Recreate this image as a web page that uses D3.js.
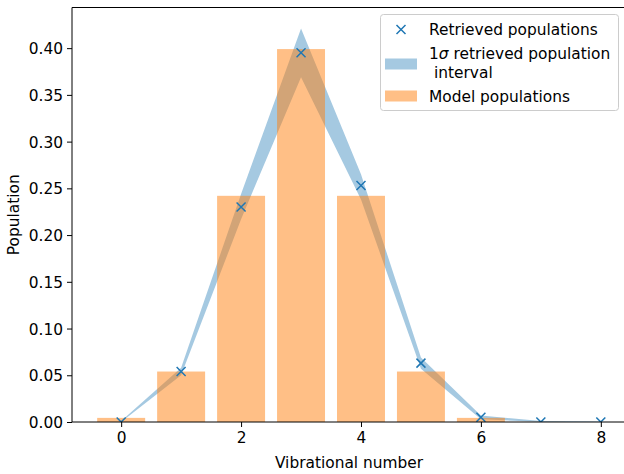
<!DOCTYPE html>
<html><head><meta charset="utf-8">
<script src="https://cdn.jsdelivr.net/npm/d3@7"></script>
<style>body{margin:0;background:#fff}svg{display:block}text{font-family:"DejaVu Sans",sans-serif;fill:#000}</style>
</head><body>
<script>
const levels = [0,1,2,3,4,5,6,7,8];
const retrieved = [0.000,0.054,0.230,0.395,0.253,0.063,0.005,0.000,0.000];
const lower =     [0.000,0.050,0.217,0.369,0.238,0.057,0.003,0.000,0.000];
const upper =     [0.001,0.058,0.244,0.421,0.265,0.069,0.007,0.001,0.0005];
const modelLevels = [0,1,2,3,4,5,6,7,8];
const model = [0.0044,0.054,0.242,0.399,0.242,0.054,0.0044,0.0001,0.0000];
const xTicks = [0,2,4,6,8];
const yTicks = [0,0.05,0.10,0.15,0.20,0.25,0.30,0.35,0.40];

const W=624,H=474;
const L=72,R=626,T=7.5,B=422;
const FS=15.4;
const C0="#1f77b4",C1="#ff7f0e";
const svg=d3.select("body").append("svg").attr("width",W).attr("height",H);
const x=d3.scaleLinear().domain([-0.82,8.42]).range([L,R]);
const y=d3.scaleLinear().domain([0,0.4435]).range([B,T]);

svg.append("defs").append("clipPath").attr("id","clip")
  .append("rect").attr("x",L).attr("y",T).attr("width",R-L).attr("height",B-T);
const g=svg.append("g").attr("clip-path","url(#clip)");

// band
const area=d3.area().x((d,i)=>x(levels[i])).y0((d,i)=>y(lower[i])).y1((d,i)=>y(upper[i]));
g.append("path").datum(levels).attr("d",area).attr("fill",C0).attr("fill-opacity",0.4);

// bars
const bw=0.8;
g.selectAll("rect.bar").data(model).join("rect").attr("class","bar")
  .attr("x",(d,i)=>x(modelLevels[i]-bw/2)).attr("width",(d,i)=>x(modelLevels[i]+bw/2)-x(modelLevels[i]-bw/2))
  .attr("y",d=>y(d)).attr("height",d=>y(0)-y(d))
  .attr("fill",C1).attr("fill-opacity",0.5);

// markers
const ms=4.5;
function xMark(sel,cx,cy){
  sel.append("path").attr("d",`M${cx-ms},${cy-ms}L${cx+ms},${cy+ms}M${cx-ms},${cy+ms}L${cx+ms},${cy-ms}`)
   .attr("stroke",C0).attr("stroke-width",1.5).attr("fill","none");
}
retrieved.forEach((v,i)=>xMark(g,x(levels[i]),y(v)));

// axes
const ax=svg.append("g").attr("transform",`translate(0,${B})`)
  .call(d3.axisBottom(x).tickValues(xTicks).tickFormat(d3.format("d")).tickSize(5).tickPadding(4));
const ay=svg.append("g").attr("transform",`translate(${L},0)`)
  .call(d3.axisLeft(y).tickValues(yTicks).tickFormat(d3.format(".2f")).tickSize(5).tickPadding(4));
[ax,ay].forEach(a=>{a.select(".domain").remove();a.selectAll("line").attr("stroke","#000").attr("stroke-width",1);
  a.selectAll("text").attr("font-size",FS).attr("font-family","DejaVu Sans, sans-serif");});
ax.selectAll("text").attr("dy",null).attr("transform",null).attr("y",20.5);
ay.selectAll("text").attr("dy","0.36em");

// spines
svg.append("line").attr("x1",L).attr("x2",L).attr("y1",T).attr("y2",B).attr("stroke","#000");
svg.append("line").attr("x1",L).attr("x2",R).attr("y1",B).attr("y2",B).attr("stroke","#000");
svg.append("line").attr("x1",L).attr("x2",R).attr("y1",T).attr("y2",T).attr("stroke","#000");
svg.append("line").attr("x1",R).attr("x2",R).attr("y1",T).attr("y2",B).attr("stroke","#000");

// labels
svg.append("text").attr("x",(L+R)/2).attr("y",468).attr("text-anchor","middle").attr("font-size",FS).text("Vibrational number");
svg.append("text").attr("transform",`translate(19,${(T+B)/2}) rotate(-90)`).attr("text-anchor","middle").attr("font-size",FS).text("Population");

// legend
const lg=svg.append("g");
lg.append("rect").attr("x",380.5).attr("y",14.5).attr("width",238).attr("height",96).attr("rx",3)
  .attr("fill","#fff").attr("fill-opacity",0.8).attr("stroke","#cccccc").attr("stroke-width",1);
xMark(lg,401,29.5);
lg.append("rect").attr("x",385).attr("y",58.5).attr("width",32).attr("height",11).attr("fill",C0).attr("fill-opacity",0.4);
lg.append("rect").attr("x",385).attr("y",90.5).attr("width",32).attr("height",11).attr("fill",C1).attr("fill-opacity",0.5);
const lt=[["Retrieved populations",429,34.5],["1σ retrieved population",429,58.5],["interval",434,77.5],["Model populations",429,101.5]];
lt.forEach(([t,tx,ty])=>{
  const te=lg.append("text").attr("x",tx).attr("y",ty).attr("font-size",FS);
  if(t.startsWith("1σ")){te.append("tspan").text("1");te.append("tspan").attr("font-style","italic").text("σ");te.append("tspan").text(" retrieved population");}
  else te.text(t);
});
</script>
</body></html>
